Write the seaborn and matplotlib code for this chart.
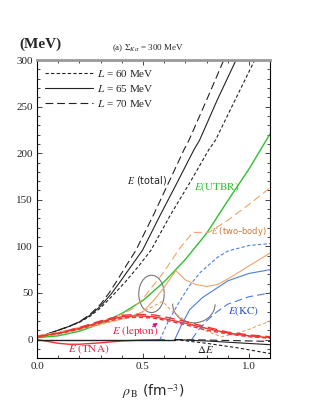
import matplotlib
matplotlib.use("Agg")
import matplotlib.pyplot as plt
import seaborn as sns
from matplotlib.patches import Arc
from matplotlib.lines import Line2D
from matplotlib.ticker import MultipleLocator

# ---------------- data ----------------
rho_tot70 = [0, 0.05, 0.1, 0.15, 0.2, 0.25, 0.3, 0.34, 0.374, 0.42, 0.467, 0.55, 0.62, 0.694, 0.717, 0.8, 0.881, 0.95]
E_tot70 = [3, 6, 10, 14, 19, 27, 38, 50, 62, 79, 96, 134, 168, 204, 214, 257, 300, 335]
rho_tot65 = [0, 0.05, 0.1, 0.15, 0.2, 0.25, 0.3, 0.35, 0.392, 0.445, 0.498, 0.58, 0.66, 0.741, 0.767, 0.85, 0.939, 1.0]
E_tot65 = [3, 6, 10, 14, 19, 26, 36, 49, 62, 79, 96, 133, 168, 204, 214, 257, 300, 332]
rho_tot60 = [0, 0.05, 0.1, 0.15, 0.2, 0.25, 0.3, 0.36, 0.417, 0.48, 0.538, 0.63, 0.72, 0.811, 0.842, 0.93, 1.027, 1.1]
E_tot60 = [3, 6, 10, 14, 18.5, 25, 34, 48, 62, 79, 96, 134, 168, 204, 214, 255, 300, 334]

rho_utbr = [0, 0.1, 0.2, 0.3, 0.4, 0.5, 0.6, 0.7, 0.8, 0.9, 1.0, 1.1]
E_utbr = [2, 4, 9, 17, 28, 42, 62, 86, 114, 149, 183, 221]

rho_two70 = [0, 0.1, 0.2, 0.3, 0.4, 0.45, 0.5, 0.6, 0.67, 0.735, 0.81, 0.9, 1.0, 1.1]
E_two70 = [4, 8, 13, 19, 27, 33, 44, 73, 97, 115, 115, 128, 145, 163]
rho_two65 = [0, 0.1, 0.2, 0.3, 0.4, 0.45, 0.5, 0.55, 0.6, 0.655, 0.7, 0.75, 0.8, 0.85, 0.9, 1.0, 1.1]
E_two65 = [4, 7, 12, 17, 22, 25, 30, 42, 56, 74, 64, 59, 57, 59, 65, 79, 93]
rho_two60 = [0, 0.1, 0.2, 0.3, 0.4, 0.5, 0.592, 0.63, 0.7, 0.8, 0.87, 0.95, 1.0, 1.1]
E_two60 = [4, 7, 11, 16, 22, 30, 41, 32, 20, 9, 3, 7, 11, 20]

rho_lep = [0, 0.1, 0.2, 0.3, 0.4, 0.47, 0.55, 0.62, 0.7, 0.8, 0.9, 1.0, 1.1]
E_lep60 = [3, 6, 11, 18, 23, 24, 23, 20, 16, 10, 6, 3, 1.5]
E_lep65 = [3, 6.5, 12, 19, 24.5, 25.5, 24.5, 21.5, 17.5, 12, 7, 4, 2]
E_lep70 = [3, 7, 13, 20, 26, 27, 26.5, 23.5, 19.5, 13.5, 8, 5, 3]

rho_tna = [0, 0.05, 0.1, 0.15, 0.2, 0.3, 0.4, 0.5, 0.6]
E_tna = [0, -2, -4, -5, -5, -3.5, -1.5, -0.5, 0]

rho_zero = [0, 0.65]
E_zero = [0, 0]
rho_dE = [0.65, 0.8, 0.95, 1.1]
dE60 = [0, -4, -9, -15]
dE65 = [0, -1.5, -3.5, -5.5]
dE70 = [0, -0.5, -1.2, -2]

rho_kc60 = [0.58, 0.62, 0.67, 0.72, 0.77, 0.85, 0.9, 1.0, 1.1]
E_kc60 = [0, 20, 40, 58, 72, 88, 95, 101, 103]
rho_kc65 = [0.65, 0.68, 0.72, 0.78, 0.84, 0.9, 1.0, 1.1]
E_kc65 = [0, 15, 32, 45, 54, 63, 71, 75]
rho_kc70 = [0.73, 0.76, 0.8, 0.85, 0.9, 1.0, 1.1]
E_kc70 = [0, 10, 20, 30, 38, 46, 50]

legend_labels = ["$L$ = 60 MeV", "$L$ = 65 MeV", "$L$ = 70 MeV"]
xtick_labels = ["0.0", "0.5", "1.0"]
ytick_values = [0, 50, 100, 150, 200, 250, 300]

# ---------------- styling ----------------
sns.set_theme(style="ticks")
plt.rcParams["font.family"] = ["DejaVu Sans"]
plt.rcParams["mathtext.fontset"] = "stix"
SERIF = "Liberation Serif"

SHORT = (0, (3, 2))
LONG = (0, (7, 3.5))
SOLID = "-"
styles = {60: SHORT, 65: SOLID, 70: LONG}

BLACK = "#222222"
GREEN = "#2fbf2f"
ORANGE = "#f0a468"
BLUE = "#4a7ee0"
RED = "#ee3333"

fig = plt.figure(figsize=(3.22, 4.17), dpi=100)
ax = fig.add_axes([0.115, 0.141, 0.724, 0.715])

lw = 0.8

def line(x, y, color, ls, lw=lw, zorder=2):
    sns.lineplot(x=x, y=y, ax=ax, color=color, linestyle=ls, linewidth=lw,
                 sort=False, estimator=None, zorder=zorder)

# total energy
line(rho_tot60, E_tot60, BLACK, SHORT)
line(rho_tot65, E_tot65, BLACK, SOLID)
line(rho_tot70, E_tot70, BLACK, LONG)
# UTBR
line(rho_utbr, E_utbr, GREEN, SOLID, lw=1.0)
# two-body
line(rho_two60, E_two60, ORANGE, SHORT)
line(rho_two65, E_two65, ORANGE, SOLID)
line(rho_two70, E_two70, ORANGE, LONG)
# lepton
line(rho_lep, E_lep60, RED, SHORT, lw=1.0)
line(rho_lep, E_lep65, RED, SOLID, lw=1.0)
line(rho_lep, E_lep70, RED, LONG, lw=1.0)
# TNA
line(rho_tna, E_tna, RED, SOLID, lw=1.0)
# kaon condensation
line(rho_kc60, E_kc60, BLUE, SHORT)
line(rho_kc65, E_kc65, BLUE, SOLID)
line(rho_kc70, E_kc70, BLUE, LONG)
# zero line and Delta E
line(rho_zero, E_zero, BLACK, SOLID, lw=1.0)
line(rho_dE, dE60, BLACK, SHORT)
line(rho_dE, dE65, BLACK, SOLID)
line(rho_dE, dE70, BLACK, LONG)

# gray highlighting arcs
ax.add_patch(Arc((0.54, 49), 0.12, 40, theta1=70, theta2=295, color="#777777", lw=0.8))
ax.add_patch(Arc((0.74, 38), 0.2, 40, theta1=100, theta2=305, color="#777777", lw=0.8))

# legend (black lines)
handles = [Line2D([], [], color=BLACK, lw=lw, linestyle=styles[k]) for k in (60, 65, 70)]
ax.legend(handles, legend_labels, loc="upper left", frameon=False,
          prop={"family": SERIF, "size": 8}, handlelength=4.3,
          handletextpad=0.4, labelspacing=0.35, borderaxespad=0.3,
          bbox_to_anchor=(0.0, 1.0))

# annotations
ax.text(0.425, 171, "$E$ (total)", fontsize=7, color=BLACK, va="center")
ax.text(0.74, 164, r"$E\mathrm{(UTBR)}$", fontsize=8, color=GREEN, va="center")
ax.text(0.82, 116, "$E$ (two–body)", fontsize=6, color="#c8783c", va="center")
ax.text(0.90, 31, r"$E\mathrm{(KC)}$", fontsize=8, color="#3050d0", va="center")
ax.text(0.355, 9, r"$E\ \mathrm{(lepton)}$", fontsize=8, color="#e8204a", va="center")
ax.text(0.145, -10, r"$E\ \mathrm{(TNA)}$", fontsize=8, color="#e8204a", va="center")
ax.text(0.755, -11, r"$\Delta E$", fontsize=8, color=BLACK, va="center")
ax.annotate("", xy=(0.58, 20), xytext=(0.535, 12),
            arrowprops=dict(arrowstyle="-|>", color="#e0107a", lw=0.8,
                            mutation_scale=6))

# axes
ax.set_xlim(0, 1.1)
ax.set_ylim(-20, 300)
ax.set_xticks([0.0, 0.5, 1.0])
ax.set_xticklabels(xtick_labels)
ax.set_yticks(ytick_values)
ax.xaxis.set_minor_locator(MultipleLocator(0.1))
ax.yaxis.set_minor_locator(MultipleLocator(10))
ax.tick_params(which="both", direction="in", top=True, right=True,
               labelsize=8, width=0.6, pad=3)
ax.tick_params(which="major", length=3.5)
ax.tick_params(which="minor", length=2)
for lab in ax.get_xticklabels() + ax.get_yticklabels():
    lab.set_family(SERIF)
for s in ax.spines.values():
    s.set_linewidth(0.8)
    s.set_color("black")
ax.spines["top"].set_color("#999999")
ax.spines["top"].set_linewidth(2.0)
ax.set_xlabel(r"$\rho_{\,\mathrm{B}}$ (fm$^{-3}$)", fontsize=10, labelpad=8)
ax.set_ylabel("")

fig.text(0.125, 0.893, "(MeV)", fontsize=11, fontweight="bold",
         family=SERIF, va="center", ha="center")
fig.text(0.46, 0.885, r"(a) $\Sigma_{K\alpha}$ = 300 MeV", fontsize=6.5,
         family=SERIF, va="center", ha="center")

fig.savefig("out.png", dpi=100)
